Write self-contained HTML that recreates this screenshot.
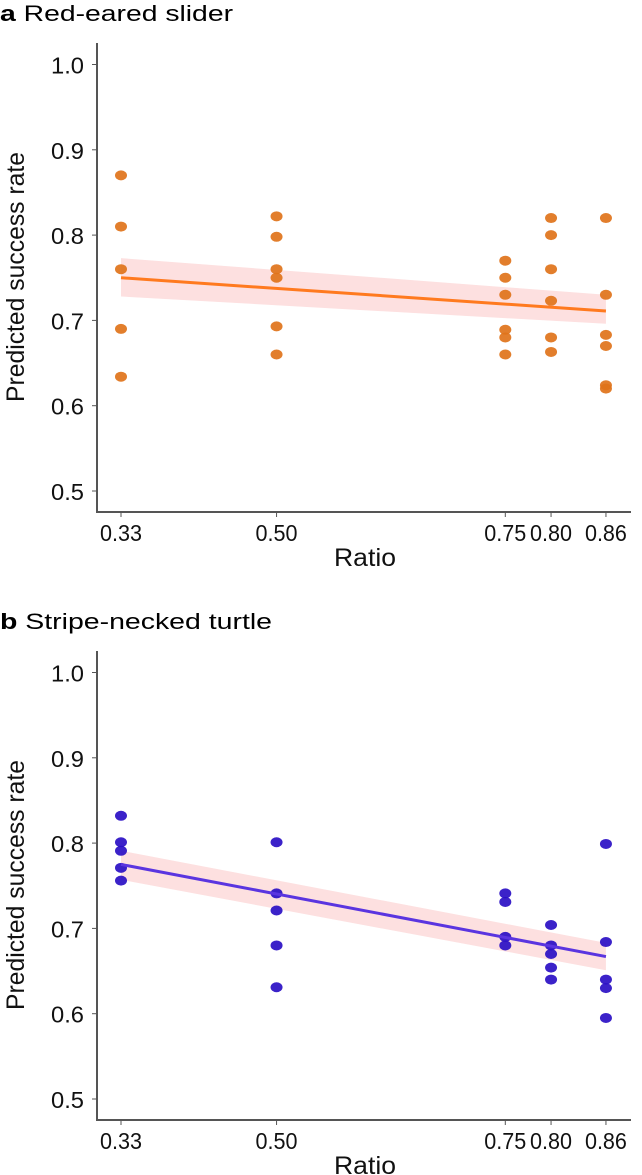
<!DOCTYPE html>
<html><head><meta charset="utf-8"><style>
html,body{margin:0;padding:0;background:#fff;}
svg{display:block;font-family:"Liberation Sans",Arial,sans-serif;}
</style></head><body>
<svg id="chart" width="642" height="1175" viewBox="0 0 642 1175" xmlns="http://www.w3.org/2000/svg"></svg>
<script>
const xCategories=[0.33,0.50,0.75,0.80,0.86];
const xTickLabels=["0.33","0.50","0.75","0.80","0.86"];
const yTicks=[0.5,0.6,0.7,0.8,0.9,1.0];
const yTickLabels=["0.5","0.6","0.7","0.8","0.9","1.0"];
const aX=[0.33,0.33,0.33,0.33,0.33,0.50,0.50,0.50,0.50,0.50,0.50,0.75,0.75,0.75,0.75,0.75,0.75,0.80,0.80,0.80,0.80,0.80,0.80,0.86,0.86,0.86,0.86,0.86,0.86];
const aY=[0.870,0.810,0.760,0.690,0.634,0.822,0.798,0.760,0.750,0.693,0.660,0.770,0.750,0.730,0.689,0.680,0.660,0.820,0.800,0.760,0.723,0.680,0.663,0.820,0.730,0.683,0.670,0.624,0.620];
const aFit=[0.750,0.711];
const aBandHi=[0.773,0.730];
const aBandLo=[0.728,0.696];
const bX=[0.33,0.33,0.33,0.33,0.33,0.50,0.50,0.50,0.50,0.50,0.75,0.75,0.75,0.75,0.80,0.80,0.80,0.80,0.80,0.86,0.86,0.86,0.86,0.86];
const bY=[0.832,0.801,0.791,0.771,0.756,0.801,0.741,0.721,0.680,0.631,0.741,0.731,0.690,0.680,0.704,0.680,0.670,0.654,0.640,0.799,0.684,0.640,0.630,0.595];
const bFit=[0.775,0.667];
const bBandHi=[0.791,0.683];
const bBandLo=[0.757,0.651];

const svg=document.getElementById('chart');
const NS='http://www.w3.org/2000/svg';
function mk(tag,attrs,parent){const e=document.createElementNS(NS,tag);for(const k in attrs)e.setAttribute(k,attrs[k]);(parent||svg).appendChild(e);return e;}
const xs=v=>121+(v-0.33)*915;

function panel(off,letter,title,titleLen,xv,yv,fit,hi,lo,dotCol,lineCol,key){
  const ys=v=>off+491-(v-0.5)*853;
  const g=mk('g',{});
  
  
  const t=mk('text',{x:0,y:off+21,'font-size':22,fill:'#000',textLength:titleLen,lengthAdjust:'spacingAndGlyphs'},g);
  
  
  t.innerHTML='<tspan font-weight="bold">'+letter+'</tspan> '+title;
  const x0=xs(xCategories[0]),x1=xs(xCategories[xCategories.length-1]);
  const band=mk('polygon',{points:`${x0},${ys(hi[0])} ${x1},${ys(hi[1])} ${x1},${ys(lo[1])} ${x0},${ys(lo[0])}`,fill:'#fde0e0'},g);
  
  
  for(let i=0;i<xv.length;i++){
    const c=mk('ellipse',{cx:xs(xv[i]),cy:ys(yv[i]),rx:6,ry:5,fill:dotCol,'fill-opacity':0.92},g);
    
    
  }
  const ln=mk('line',{x1:x0,y1:ys(fit[0]),x2:x1,y2:ys(fit[1]),stroke:lineCol,'stroke-width':3},g);
  
  
  const ya=mk('line',{x1:97,y1:off+43,x2:97,y2:off+512,stroke:'#555','stroke-width':2},g);
  
  
  const xa=mk('line',{x1:96,y1:off+512,x2:631,y2:off+512,stroke:'#555','stroke-width':2},g);
  
  
  yTicks.forEach((v,i)=>{
    mk('line',{x1:92,y1:ys(v),x2:97,y2:ys(v),stroke:'#555','stroke-width':1},g);
    const tl=mk('text',{x:84,y:ys(v)+9,'font-size':23,'text-anchor':'end',fill:'#111',textLength:33,lengthAdjust:'spacingAndGlyphs'},g);
    
    
    tl.textContent=yTickLabels[i];
  });
  xCategories.forEach((v,i)=>{
    mk('line',{x1:xs(v),y1:off+512,x2:xs(v),y2:off+517,stroke:'#555','stroke-width':1},g);
    const tl=mk('text',{x:xs(v),y:off+541,'font-size':23,'text-anchor':'middle',fill:'#111',textLength:42,lengthAdjust:'spacingAndGlyphs'},g);
    
    
    tl.textContent=xTickLabels[i];
  });
  const xt=mk('text',{x:365,y:off+566,'font-size':25,'text-anchor':'middle',fill:'#111',textLength:62,lengthAdjust:'spacingAndGlyphs'},g);
  
  
  xt.textContent='Ratio';
  const yt=mk('text',{x:0,y:0,'font-size':25,'text-anchor':'middle',fill:'#111',textLength:250,lengthAdjust:'spacingAndGlyphs',transform:`translate(24,${off+277}) rotate(-90)`},g);
  
  
  yt.textContent='Predicted success rate';
}
panel(0,'a','Red-eared slider',233,aX,aY,aFit,aBandHi,aBandLo,'#e0731a','#ff7a1f','a');
panel(608,'b','Stripe-necked turtle',272,bX,bY,bFit,bBandHi,bBandLo,'#2a0fc4','#5a35e0','b');
</script>
</body></html>
